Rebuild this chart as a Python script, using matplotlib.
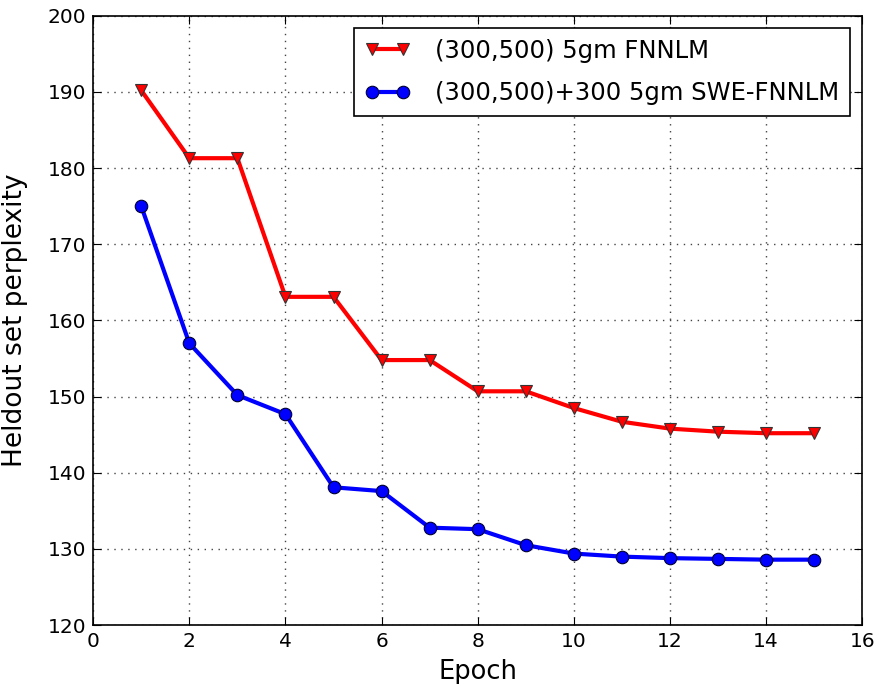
import matplotlib
matplotlib.use("Agg")
import matplotlib.pyplot as plt

epochs = list(range(1, 16))
fnnlm = [190.2, 181.3, 181.3, 163.1, 163.1, 154.8, 154.8, 150.7, 150.7, 148.5, 146.7, 145.8, 145.4, 145.2, 145.2]
swe_fnnlm = [175.0, 157.0, 150.2, 147.7, 138.1, 137.6, 132.8, 132.6, 130.5, 129.4, 129.0, 128.8, 128.7, 128.6, 128.6]
labels = ["(300,500) 5gm FNNLM", "(300,500)+300 5gm SWE-FNNLM"]

fig = plt.figure(figsize=(8.79, 6.84), dpi=100)
ax = fig.add_axes([0.106, 0.086, 0.875, 0.891])

ax.plot(epochs, fnnlm, color="red", lw=3, marker="v", markersize=9,
        markerfacecolor="red", markeredgecolor="#333333", markeredgewidth=0.8, label=labels[0])
ax.plot(epochs, swe_fnnlm, color="blue", lw=3, marker="o", markersize=9,
        markerfacecolor="blue", markeredgecolor="#000033", markeredgewidth=0.8, label=labels[1])

ax.set_xlim(0, 16)
ax.set_ylim(120, 200)
ax.set_xticks(range(0, 17, 2))
ax.set_yticks(range(120, 201, 10))
ax.grid(True, linestyle=(0, (1, 4)), color="#444444", lw=1)
ax.tick_params(direction="in", top=True, right=True, length=6, labelsize=14.5, pad=5)
ax.set_xlabel("Epoch", fontsize=18.5)
ax.set_ylabel("Heldout set perplexity", fontsize=19)
ax.yaxis.set_label_coords(-0.085, 0.5)
ax.xaxis.set_label_coords(0.5, -0.055)
for s in ax.spines.values():
    s.set_linewidth(1.2)

leg = ax.legend(loc="upper right", numpoints=2, fontsize=17.5, fancybox=False,
                framealpha=1, edgecolor="black", borderaxespad=0.5, handlelength=1.9,
                handletextpad=1.0, labelspacing=0.75, borderpad=0.45)
leg.get_frame().set_linewidth(1.2)

fig.savefig("out.png", dpi=100)
